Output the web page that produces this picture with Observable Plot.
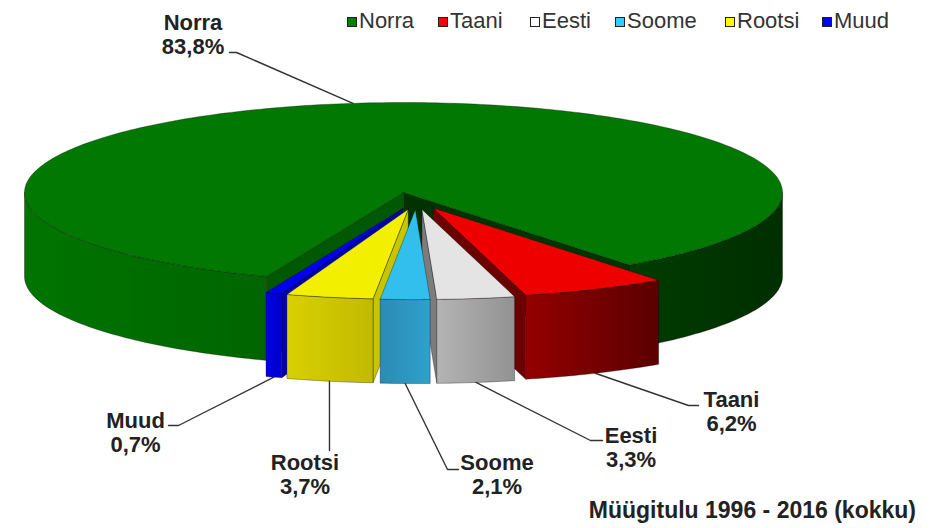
<!DOCTYPE html>
<html>
<head>
<meta charset="utf-8">
<script src="https://cdn.jsdelivr.net/npm/d3@7"></script>
<script src="https://cdn.jsdelivr.net/npm/@observablehq/plot@0.6"></script>
<style>
  html, body { margin: 0; padding: 0; background: #fff; }
  #wrap { position: relative; width: 945px; height: 528px; overflow: hidden;
          font-family: "Liberation Sans", Arial, sans-serif; }
  #wrap svg { position: absolute; left: 0; top: 0; }
  .li { position: absolute; top: 9px; height: 24px; line-height: 24px; font-size: 22px;
        color: #333; white-space: nowrap; }
  .sw { display: inline-block; width: 8px; height: 8px; border: 1px solid #222;
        vertical-align: 1px; margin-right: 2px; }
  #title { position: absolute; right: 29px; top: 497px; font-size: 23px; line-height: 26px;
           font-weight: bold; color: #222; white-space: nowrap; }
</style>
</head>
<body>
<div id="wrap"></div>
<script>
// ---------------- data ----------------
const names = ["Norra", "Taani", "Eesti", "Soome", "Rootsi", "Muud"];
const shares = [83.8, 6.2, 3.3, 2.1, 3.7, 0.7];
const shareLabels = ["83,8%", "6,2%", "3,3%", "2,1%", "3,7%", "0,7%"];
const titleText = "Müügitulu 1996 - 2016 (kokku)";

// ---------------- styles ----------------
const sty = {
  Norra:  {top: "#017801", wall: ["#007400", "#006500"], wall2: ["#003c00", "#002e00"], faceLo: "#003300", faceHi: "#005800", sw: "#008000"},
  Taani:  {top: "#ee0000", wall: ["#940000", "#5a0000"], faceLo: "#6a0000", faceHi: "#6a0000", sw: "#ff0000"},
  Eesti:  {top: "#e4e4e4", wall: ["#b4b4b4", "#929292"], faceLo: "#7c7c7c", faceHi: "#7c7c7c", sw: "#ffffff"},
  Soome:  {top: "#33bfee", wall: ["#2a8cb4", "#30a0cc"], faceLo: "#1f7ea6", faceHi: "#1f7ea6", sw: "#33ccff"},
  Rootsi: {top: "#f2f000", wall: ["#d8d000", "#c2ba00"], faceLo: "#c8c400", faceHi: "#c8c400", sw: "#ffff00"},
  Muud:   {top: "#0000ee", wall: ["#0000e4", "#0000c8"], faceLo: "#0000b0", faceHi: "#0000b0", sw: "#0000ff"}
};

// ---------------- layout (pixels) ----------------
const frame = {cx: 403, rx: 379, cy: 192, ry: 90};
const ix = px => (px - frame.cx) / frame.rx;   // pixel -> chart units
const iy = py => (py - frame.cy) / frame.ry;
const labelLayout = {
  Norra:  {tx: 192.5, ty: 33.5, ex: 236, ey: 52,  hx: 229},
  Taani:  {tx: 731,   ty: 411,  ex: 688, ey: 405, hx: 698},
  Eesti:  {tx: 630.5, ty: 447,  ex: 590, ey: 440, hx: 602},
  Soome:  {tx: 496.5, ty: 474,  ex: 447, ey: 469, hx: 458},
  Rootsi: {tx: 304.5, ty: 474,  ex: 329, ey: 450, hx: 329},
  Muud:   {tx: 135,   ty: 432,  ex: 178, ey: 425, hx: 168}
};
const legendX = {Norra: 347, Taani: 438, Eesti: 530, Soome: 615, Rootsi: 725, Muud: 822};

// ---------------- geometry (3D pie, viewed from above-front) ----------------
const ROT = 338.8;        // start angle of first slice (deg, 0 = front, + = right)
const DEPTH = 0.933;      // thickness in y units
const EX0 = 0.034, EX1 = 0.103, EY = 0.19; // explosion of the small slices
const rad = d => d * Math.PI / 180;
const total = d3.sum(shares);
let cur = ROT;
const slices = names.map((name, i) => {
  const span = shares[i] / total * 360;
  const hi = cur, lo = cur - span; cur = lo;
  const mid = (hi + lo) / 2;
  const e = i === 0 ? 0 : 1;
  return {name, i, hi, lo, mid,
    ox: e * (EX0 + EX1 * Math.sin(rad(mid))),
    oy: e * EY * Math.cos(rad(mid))};
});
const pt = (s, th, r, z) => ({x: s.ox + r * Math.sin(rad(th)), y: s.oy + r * Math.cos(rad(th)) + z});
const arc = (s, a, b, z) => {
  const n = Math.max(2, Math.ceil(Math.abs(b - a)));
  return d3.range(n + 1).map(k => pt(s, a + (b - a) * k / n, 1, z));
};
const frontRuns = (lo, hi) => {
  const runs = [];
  for (let k = -1; k <= 1; k++) {
    const a = Math.max(lo, -90 + 360 * k), b = Math.min(hi, 90 + 360 * k);
    if (b > a) runs.push([a, b]);
  }
  return runs;
};
const topPoly = s => [pt(s, 0, 0, 0), ...arc(s, s.lo, s.hi, 0), pt(s, 0, 0, 0)];
const wallPoly = (s, a, b) => { const p = [...arc(s, a, b, 0), ...arc(s, b, a, DEPTH)]; p.push(p[0]); return p; };
const facePoly = (s, th) => [pt(s, 0, 0, 0), pt(s, th, 1, 0), pt(s, th, 1, DEPTH), pt(s, 0, 0, DEPTH), pt(s, 0, 0, 0)];

const gradId = (name, k) => `g-${name}-${k}`;
const poly = (pts, fill) => Plot.line(pts, {x: "x", y: "y", fill, stroke: "#000",
  strokeOpacity: 0.45, strokeWidth: 0.7, strokeLinejoin: "round", curve: "linear"});

const marks = [];
const gradients = [];
function drawSlice(s) {
  const st = sty[s.name];
  // radial side faces
  if (Math.sin(rad(s.lo)) > 0) marks.push(poly(facePoly(s, s.lo), st.faceLo));
  if (Math.sin(rad(s.hi)) < 0) marks.push(poly(facePoly(s, s.hi), st.faceHi));
  // outer walls (front part)
  frontRuns(s.lo, s.hi).forEach(([a, b], k) => {
    const cols = (s.i === 0 && Math.sin(rad((a + b) / 2)) > 0) ? st.wall2 : st.wall;
    const id = gradId(s.name, k);
    gradients.push({id, cols});
    marks.push(poly(wallPoly(s, a, b), `url(#${id})`));
  });
  marks.push(poly(topPoly(s), st.top));
}
const order = ["Norra", "Taani", "Muud", "Eesti", "Rootsi", "Soome"];
order.forEach(n => drawSlice(slices.find(s => s.name === n)));

// leader lines
const leaders = slices.flatMap(s => {
  const L = labelLayout[s.name];
  const a = s.i === 0 ? pt(s, s.mid, 1, 0) : pt(s, s.mid, 1, DEPTH);
  return [{name: s.name, ...a},
          {name: s.name, x: ix(L.ex), y: iy(L.ey)},
          {name: s.name, x: ix(L.hx), y: iy(L.ey)}];
});
marks.push(Plot.line(leaders, {x: "x", y: "y", z: "name", stroke: "#333", strokeWidth: 1.4, curve: "linear"}));
marks.push(Plot.text(slices, {
  x: s => ix(labelLayout[s.name].tx), y: s => iy(labelLayout[s.name].ty),
  text: s => s.name + "\n" + shareLabels[s.i],
  fontSize: 22, fontWeight: "bold", lineHeight: 1.09, fill: "#222", textAnchor: "middle"
}));

const svg = Plot.plot({
  width: 945, height: 528,
  margin: 0,
  x: {domain: [-1, 1], range: [frame.cx - frame.rx, frame.cx + frame.rx], axis: null},
  y: {domain: [-1, 1], range: [frame.cy - frame.ry, frame.cy + frame.ry], axis: null},
  style: {fontFamily: "'Liberation Sans', Arial, sans-serif", background: "transparent", overflow: "visible"},
  marks
});

// gradient definitions for the shaded walls
const defs = d3.select(svg).insert("defs", ":first-child");
gradients.forEach(g => {
  const lg = defs.append("linearGradient").attr("id", g.id).attr("x1", 0).attr("x2", 1).attr("y1", 0).attr("y2", 0);
  lg.append("stop").attr("offset", "0%").attr("stop-color", g.cols[0]);
  lg.append("stop").attr("offset", "100%").attr("stop-color", g.cols[1]);
});

const wrap = document.getElementById("wrap");
wrap.appendChild(svg);

// legend
names.forEach((n) => {
  const d = document.createElement("div");
  d.className = "li";
  d.style.left = legendX[n] + "px";
  const sw = document.createElement("span");
  sw.className = "sw";
  sw.style.background = sty[n].sw;
  d.appendChild(sw);
  d.appendChild(document.createTextNode(n));
  wrap.appendChild(d);
});
// title
const t = document.createElement("div");
t.id = "title";
t.textContent = titleText;
wrap.appendChild(t);
</script>
</body>
</html>
